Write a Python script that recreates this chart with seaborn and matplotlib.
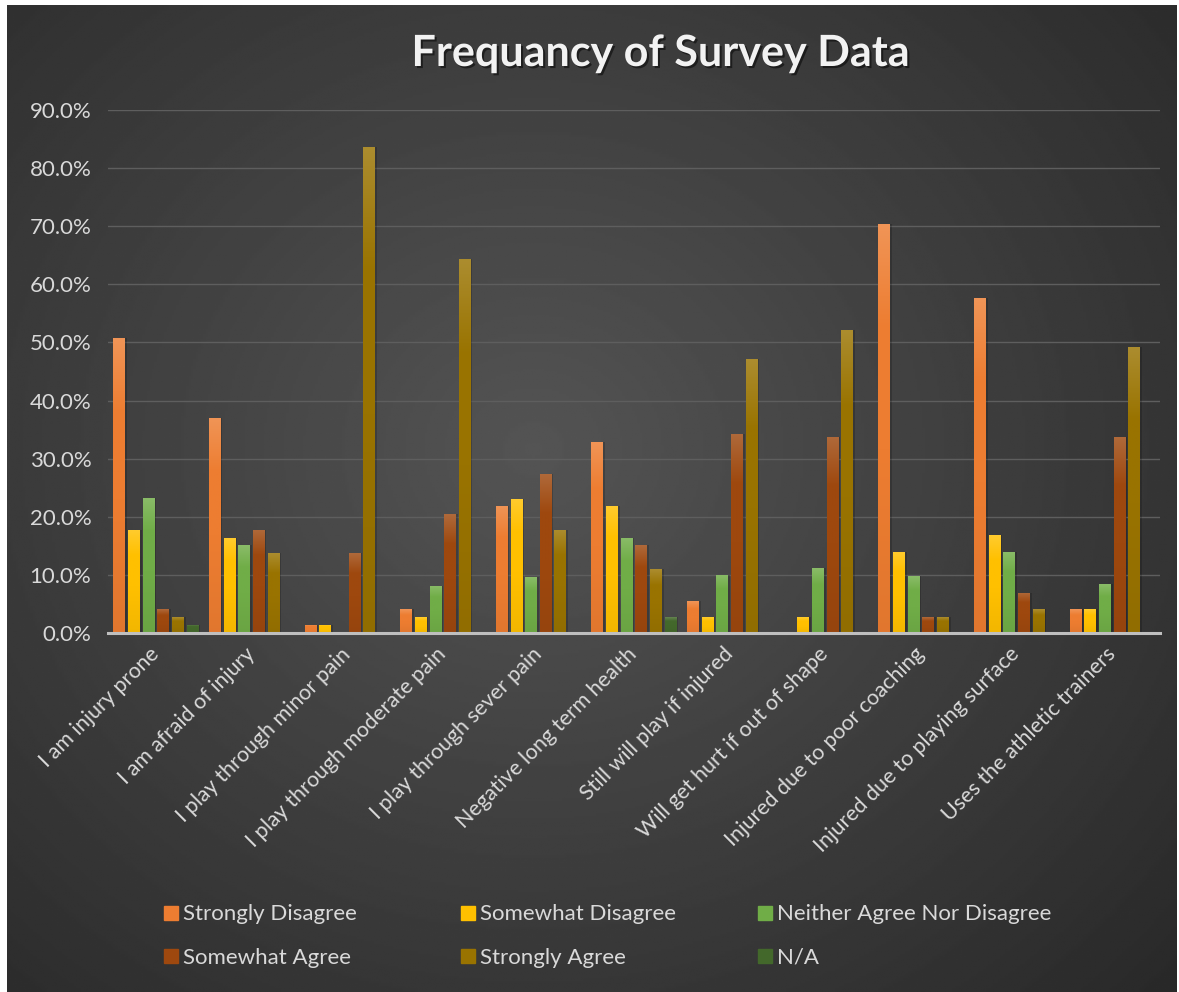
import numpy as np
import pandas as pd
import matplotlib
matplotlib.use("Agg")
import matplotlib.pyplot as plt
import matplotlib.patheffects as pe
import seaborn as sns
from matplotlib.lines import Line2D
from matplotlib.colors import to_rgb, LinearSegmentedColormap

# --------------------------------------------------------------------------------------------------------------------------------------------
# Data (percent of respondents)
questions = ["I am injury prone", "I am afraid of injury", "I play through minor pain",
             "I play through moderate pain", "I play through sever pain", "Negative long term health",
             "Still will play if injured", "Will get hurt if out of shape", "Injured due to poor coaching",
             "Injured due to playing surface", "Uses the athletic trainers"]
responses = ["Strongly Disagree", "Somewhat Disagree", "Neither Agree Nor Disagree",
             "Somewhat Agree", "Strongly Agree", "N/A"]

strongly_disagree = [50.7, 37.0, 1.4, 4.1, 21.9, 32.9, 5.5, 0.0, 70.4, 57.6, 4.1]
somewhat_disagree = [17.8, 16.4, 1.4, 2.7, 23.1, 21.9, 2.7, 2.7, 14.0, 16.8, 4.1]
neither = [23.3, 15.1, 0.0, 8.1, 9.6, 16.4, 10.0, 11.1, 9.8, 14.0, 8.4]
somewhat_agree = [4.1, 17.8, 13.7, 20.4, 27.4, 15.1, 34.3, 33.8, 2.7, 6.9, 33.8]
strongly_agree = [2.7, 13.7, 83.6, 64.3, 17.8, 11.0, 47.1, 52.1, 2.7, 4.1, 49.2]
not_applicable = [1.4, 0.0, 0.0, 0.0, 0.0, 2.7, 0.0, 0.0, 0.0, 0.0, 0.0]

colors = ["#ED7D31", "#FFC000", "#70AD47", "#9E480E", "#997300", "#43682B"]

series = [strongly_disagree, somewhat_disagree, neither, somewhat_agree, strongly_agree, not_applicable]
rows = []
for resp, vals in zip(responses, series):
    for q, v in zip(questions, vals):
        rows.append({"question": q, "response": resp, "value": v / 100})
df = pd.DataFrame(rows)

# --------------------------------------------------------------------------------------------------------------------------------------------
plt.rcParams["font.family"] = ["Lato", "DejaVu Sans"]
txt = "#d9d9d9"

fig = plt.figure(figsize=(11.79, 9.92), dpi=100, facecolor="white")

# dark radial background
bg = fig.add_axes([7 / 1179, 0, 1170 / 1179, 987 / 992], zorder=-10)
yy, xx = np.mgrid[0:1:400j, 0:1:480j]
d = np.sqrt(((xx - 0.45) / 0.75) ** 2 + ((yy - 0.45) / 0.8) ** 2)
shade = np.clip(0.33 - 0.17 * d, 0.16, 0.33)
bg.imshow(shade, cmap="gray", vmin=0, vmax=1, aspect="auto", extent=[0, 1, 0, 1])
bg.set_axis_off()

ax = fig.add_axes([108 / 1179, 1 - 633 / 992, 1052 / 1179, (633 - 110) / 992])
ax.patch.set_alpha(0)

sns.barplot(data=df, x="question", y="value", hue="response", palette=colors, saturation=1,
            width=0.92, gap=0.2, linewidth=0, ax=ax, legend=False)

# vertical gradient on every bar, a bit lighter at the top
for p in list(ax.patches):
    h = p.get_height()
    if h <= 0:
        continue
    base = np.array(to_rgb(p.get_facecolor()))
    top = base + (1 - base) * 0.18
    bot = base * 0.95
    cm = LinearSegmentedColormap.from_list("g", [(0, bot), (0.45, base), (0.75, base), (1, top)])
    x0 = p.get_x()
    w = p.get_width()
    grad = np.linspace(0, 1, 100).reshape(-1, 1)
    # soft shadow
    ax.bar(x0 + w / 2 + 0.01, h, width=w * 1.15, bottom=0, color="black", alpha=0.18,
           linewidth=0, zorder=1.5)
    im = ax.imshow(grad, cmap=cm, origin="lower", aspect="auto", interpolation="bilinear",
                   extent=[x0, x0 + w, 0, h], zorder=2)
    im.set_clip_path(p)

ax.set_xlim(-0.5, len(questions) - 0.5)
ax.set_ylim(0, 0.9)
ax.set_yticks(np.arange(0, 0.91, 0.1))
ax.yaxis.set_major_formatter(matplotlib.ticker.PercentFormatter(1.0, decimals=1))
ax.grid(axis="y", color="#5e5e5e", linewidth=1)
ax.set_axisbelow(True)
for s in ["top", "right", "left"]:
    ax.spines[s].set_visible(False)
ax.spines["bottom"].set_color("#bfbfbf")
ax.spines["bottom"].set_linewidth(2.2)
ax.spines["bottom"].set_zorder(5)
ax.tick_params(axis="both", length=0, colors=txt)
ax.tick_params(axis="y", pad=12, labelsize=16)
ax.tick_params(axis="x", pad=13, labelsize=15.5)
ax.set_xlabel("")
ax.set_ylabel("")
ax.set_xticks(range(len(questions)))
ax.set_xticklabels(questions, rotation=45, ha="right", va="center", rotation_mode="anchor", color=txt)

fig.text(0.56, 1 - 53 / 992, "Frequancy of Survey Data", ha="center", va="center",
         fontsize=31, fontweight="bold", color="#f2f2f2",
         path_effects=[pe.withSimplePatchShadow(offset=(1.5, -1.5), shadow_rgbFace="black", alpha=0.5)])

# legend: three columns of two rows each
handles = [Line2D([], [], marker="s", linestyle="", markersize=10, markerfacecolor=c,
                  markeredgecolor=c) for c in colors]
col_x = [140, 437, 734]
for k, cx in enumerate(col_x):
    idx = [k, k + 3]
    leg = fig.legend([handles[i] for i in idx], [responses[i] for i in idx], ncol=1,
                     loc="center left", bbox_to_anchor=(cx / 1179, 1 - 936 / 992),
                     frameon=False, fontsize=16, labelcolor=txt, handletextpad=0.05,
                     labelspacing=1.05, handlelength=1.0)

fig.savefig("out.png", dpi=100, facecolor="white")
